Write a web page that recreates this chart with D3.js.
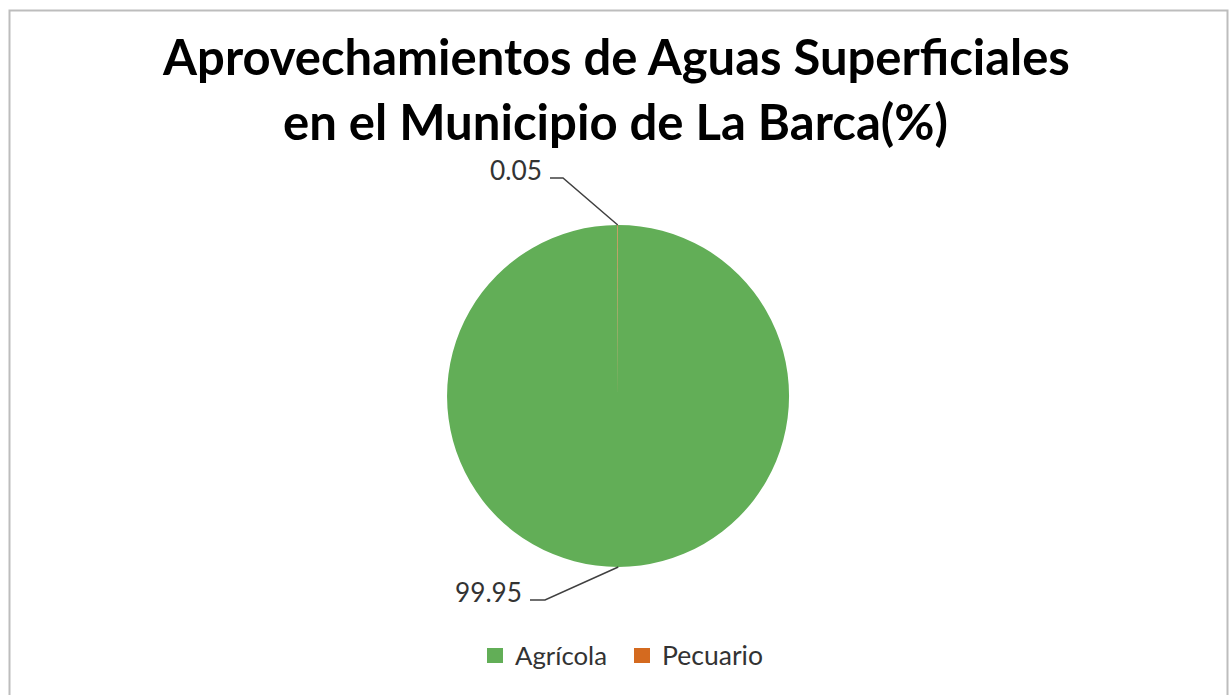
<!DOCTYPE html>
<html><head><meta charset="utf-8">
<script src="https://cdn.jsdelivr.net/npm/d3@7"></script>
<style>body{margin:0;background:#fff}svg{display:block}</style>
</head><body>
<svg id="c" width="1229" height="695"></svg>
<script>
const categories = ["Agrícola", "Pecuario"];
const values = [99.95, 0.05];
const labels = ["99.95", "0.05"];
const colors = ["#62AE57", "#D46A1F"];
const titleLines = ["Aprovechamientos de Aguas Superficiales", "en el Municipio de La Barca(%)"];

const svg = d3.select("#c");
const font = "Lato, 'Open Sans', sans-serif";

function fit(el, base, target) {
  const w = el.node().getComputedTextLength();
  el.attr("font-size", base * target / w);
}

svg.append("rect").attr("x", 9.5).attr("y", 10.5).attr("width", 1218).attr("height", 700)
  .attr("fill", "#fff").attr("stroke", "#BDBDBD").attr("stroke-width", 2);

// title
const tTargets = [[163, 1070], [283, 948]];
const tBase = [75, 140];
titleLines.forEach((t, i) => {
  const el = svg.append("text").attr("x", (tTargets[i][0] + tTargets[i][1]) / 2).attr("y", tBase[i])
    .attr("text-anchor", "middle").attr("font-family", font).attr("font-weight", "bold")
    .attr("font-size", 46).attr("fill", "#000").text(t);
  fit(el, 46, tTargets[i][1] - tTargets[i][0]);
});

const cx = 618, cy = 396, r = 171;
const pie = d3.pie().sort(null).value(d => d)(values);
const arc = d3.arc().innerRadius(0).outerRadius(r);
const g = svg.append("g").attr("transform", `translate(${cx},${cy})`);
g.selectAll("path").data(pie).join("path").attr("d", arc).attr("fill", (d, i) => colors[i]);

// leader lines and labels
const elbows = [[-73, 204, -88, 67], [-55, -218, -68, 52]]; // [elbowDx, elbowDy, endDx, labelWidth]
const outer = d3.arc().innerRadius(r).outerRadius(r);
pie.forEach((d, i) => {
  const c = outer.centroid(d);
  const e = elbows[i];
  const p0 = [c[0] + cx, c[1] + cy];
  const p1 = [cx + e[0], cy + e[1]];
  const p2 = [cx + e[2], cy + e[1]];
  svg.append("polyline").attr("points", [p0, p1, p2].map(p => p.join(",")).join(" "))
    .attr("fill", "none").attr("stroke", "#404040").attr("stroke-width", 1.5);
  const t = svg.append("text").attr("x", p2[0] - 8).attr("y", p2[1] - 7).attr("dy", "0.35em")
    .attr("text-anchor", "end").attr("font-family", font).attr("font-size", 24)
    .attr("fill", "#333").text(labels[i]);
  fit(t, 24, e[3]);
});

// legend
const lx = [487, 634];
const lw = [92, 101];
categories.forEach((c, i) => {
  svg.append("rect").attr("x", lx[i]).attr("y", 648).attr("width", 16).attr("height", 15).attr("fill", colors[i]);
  const t = svg.append("text").attr("x", lx[i] + 28).attr("y", 656).attr("dy", "0.35em")
    .attr("font-family", font).attr("font-size", 24).attr("fill", "#333").text(c);
  fit(t, 24, lw[i]);
});
</script>
</body></html>
